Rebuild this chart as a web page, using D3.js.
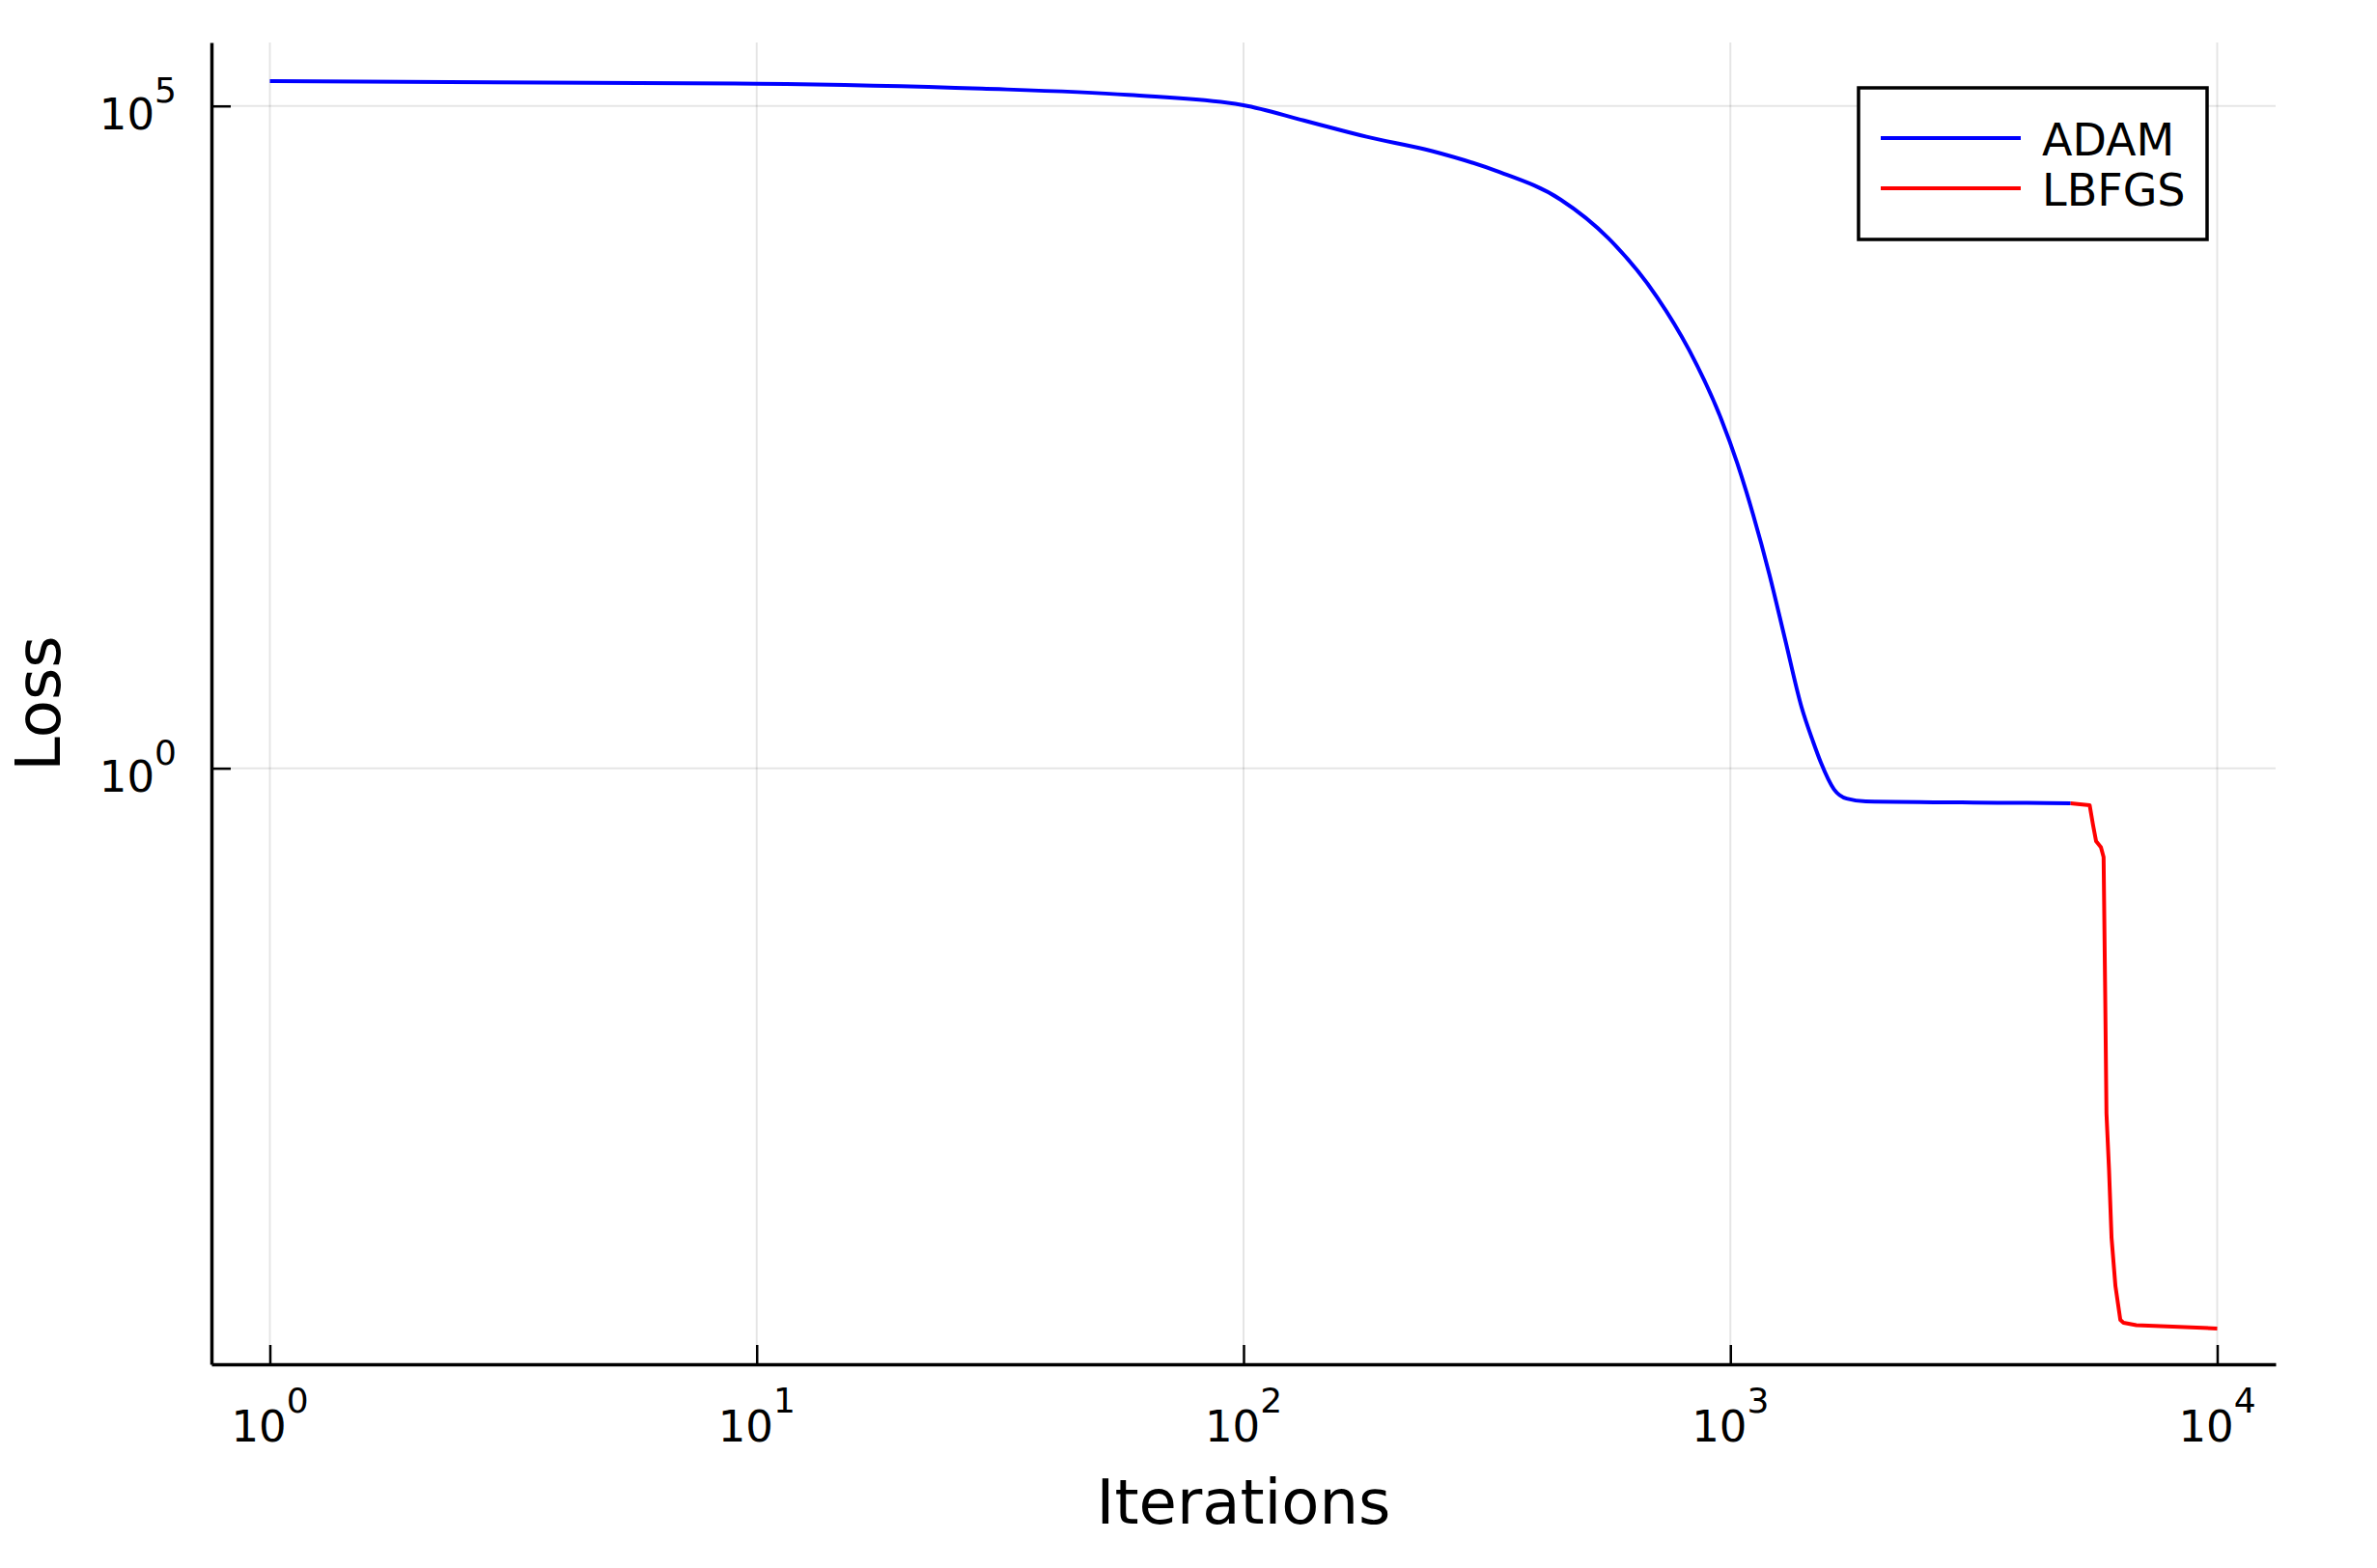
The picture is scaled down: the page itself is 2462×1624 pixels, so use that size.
<!DOCTYPE html>
<html>
<head>
<meta charset="utf-8">
<script src="https://cdn.jsdelivr.net/npm/d3@7"></script>
<style>
  html, body { margin: 0; padding: 0; background: #fff; }
  svg { display: block; font-family: "DejaVu Sans", sans-serif; }
</style>
</head>
<body>
<svg id="chart" width="2462" height="1624"></svg>
<script>
// ---- Data ----
const adamIter = [1, 10, 29, 58, 100, 133, 179, 243, 330, 448, 562, 706, 822, 957, 1033, 1114, 1202, 1297, 1400, 1479, 1535, 1633, 1734, 1897, 4064, 5000];
const adamLoss = [153800, 147200, 135200, 121100, 101200, 77620, 58480, 45810, 32360, 19630, 10000, 3631, 1445, 434.5, 201.4, 81.8, 29.3, 9.23, 2.90, 1.585, 1.10, 0.692, 0.589, 0.562, 0.547, 0.543];
const lbfgsIter = [5000, 5470, 5560, 5640, 5770, 5843, 5887, 5923, 5995, 6067, 6180, 6324, 6420, 6820, 10000];
const lbfgsLoss = [0.543, 0.526, 0.371, 0.281, 0.253, 0.213, 0.0200, 0.00247, 0.000933, 0.000285, 0.000123, 0.0000685, 0.000065, 0.0000625, 0.0000589];
const seriesNames = ["ADAM", "LBFGS"];
const seriesColors = ["#0000ff", "#ff0000"];
const xTickExps = [0, 1, 2, 3, 4];
const yTickExps = [0, 5];
const xLabel = "Iterations";
const yLabel = "Loss";

// ---- Layout ----
const L = 219, R = 2357, T = 44, B = 1413;
const svg = d3.select("#chart");

const x = d3.scaleLog().domain([Math.pow(10, -0.12), Math.pow(10, 4.12)]).range([L, R]);
const y = d3.scaleLog().domain([Math.pow(10, -4.5), Math.pow(10, 5.479)]).range([B, T]);

const xTicks = xTickExps.map(e => Math.pow(10, e));
const yTicks = yTickExps.map(e => Math.pow(10, e));

// grid
const grid = svg.append("g");
grid.selectAll("line.vx").data(xTicks).join("line")
  .attr("x1", d => x(d)).attr("x2", d => x(d)).attr("y1", T).attr("y2", B)
  .attr("stroke", "#000").attr("stroke-opacity", 0.1).attr("stroke-width", 2);
grid.selectAll("line.hy").data(yTicks).join("line")
  .attr("x1", L).attr("x2", R).attr("y1", d => y(d)).attr("y2", d => y(d))
  .attr("stroke", "#000").attr("stroke-opacity", 0.1).attr("stroke-width", 2);

// series
const smoothLine = d3.line().x(d => x(d[0])).y(d => y(d[1])).curve(d3.curveMonotoneX);
const straightLine = d3.line().x(d => x(d[0])).y(d => y(d[1]));
const series = [
  { pts: d3.zip(adamIter, adamLoss), gen: smoothLine },
  { pts: d3.zip(lbfgsIter, lbfgsLoss), gen: straightLine }
];
svg.append("g").selectAll("path").data(series).join("path")
  .attr("d", d => d.gen(d.pts))
  .attr("fill", "none")
  .attr("stroke", (d, i) => seriesColors[i])
  .attr("stroke-width", 4)
  .attr("stroke-linejoin", "round");

// axes
const xAxis = d3.axisBottom(x).tickValues(xTicks).tickFormat("").tickSizeInner(-20).tickSizeOuter(0);
const yAxis = d3.axisLeft(y).tickValues(yTicks).tickFormat("").tickSizeInner(-20).tickSizeOuter(0);
const gx = svg.append("g").attr("transform", `translate(0,${B})`).call(xAxis);
const gy = svg.append("g").attr("transform", `translate(${L},0)`).call(yAxis);
[gx, gy].forEach(g => {
  g.select(".domain").attr("stroke", "#000").attr("stroke-width", 3.5);
  g.selectAll(".tick line").attr("stroke", "#000").attr("stroke-width", 2.5);
});

// x tick labels
const xl = svg.append("g").selectAll("text").data(xTickExps).join("text")
  .attr("x", d => x(Math.pow(10, d)))
  .attr("y", B + 80)
  .attr("text-anchor", "middle")
  .attr("font-size", 45)
  .attr("fill", "#000");
xl.append("tspan").text("10");
xl.append("tspan").attr("dy", -30).attr("font-size", 36).text(d => d);

// y tick labels
const yl = svg.append("g").selectAll("text").data(yTickExps).join("text")
  .attr("x", 183)
  .attr("y", d => y(Math.pow(10, d)) + 24)
  .attr("text-anchor", "end")
  .attr("font-size", 45)
  .attr("fill", "#000");
yl.append("tspan").text("10");
yl.append("tspan").attr("dy", -28).attr("font-size", 36).text(d => d);

// axis titles
svg.append("text").attr("x", (L + R) / 2).attr("y", 1578)
  .attr("text-anchor", "middle").attr("font-size", 64).attr("fill", "#000").text(xLabel);
svg.append("text").attr("transform", `translate(62,${(T + B) / 2}) rotate(-90)`)
  .attr("text-anchor", "middle").attr("font-size", 64).attr("fill", "#000").text(yLabel);

// legend
const lg = svg.append("g");
lg.append("rect").attr("x", 1925).attr("y", 91).attr("width", 361).attr("height", 157)
  .attr("fill", "#fff").attr("stroke", "#000").attr("stroke-width", 3.5);
const items = lg.selectAll("g.item").data(seriesNames).join("g")
  .attr("transform", (d, i) => `translate(0,${143 + i * 52})`);
items.append("line").attr("x1", 1948).attr("x2", 2093).attr("y1", 0).attr("y2", 0)
  .attr("stroke", (d, i) => seriesColors[i]).attr("stroke-width", 4);
items.append("text").attr("x", 2115).attr("y", 18).attr("font-size", 46).attr("fill", "#000").text(d => d);
</script>
</body>
</html>
